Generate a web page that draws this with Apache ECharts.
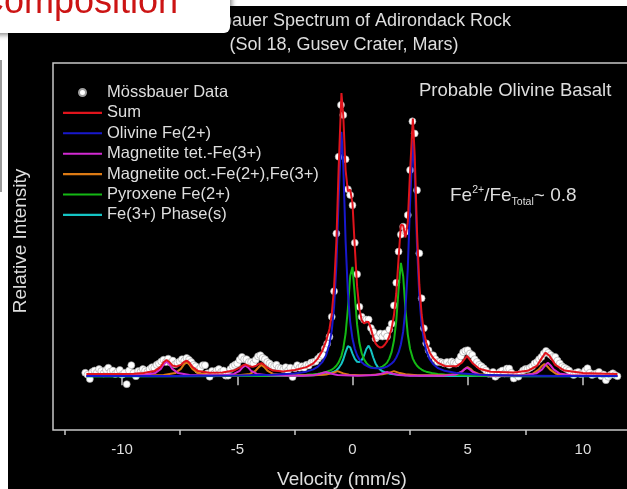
<!DOCTYPE html>
<html><head><meta charset="utf-8">
<script src="https://cdn.jsdelivr.net/npm/echarts@6/dist/echarts.min.js"></script>
<style>html,body{margin:0;padding:0;background:#fff;overflow:hidden;width:627px;height:489px}#c{width:660px;height:489px}</style>
</head><body><div id="c"></div>
<script>
const FONT = 'Liberation Sans, Arial, sans-serif';

// Tick labels / ticks
const majorTicks = [-10, -5, 0, 5, 10];
const minorTicks = [-12.5, -7.5, -2.5, 2.5, 7.5, 12.5];

// Mössbauer data (velocity mm/s, relative absorption)
const dataV = [
 -11.6,-11.5,-11.4,-11.3,-11.2,-11.1,-11.0,-10.9,-10.8,-10.7,
 -10.6,-10.5,-10.4,-10.3,-10.2,-10.1,-10.0,-9.9,-9.8,-9.7,
 -9.6,-9.5,-9.4,-9.3,-9.2,-9.1,-9.0,-8.9,-8.8,-8.7,
 -8.6,-8.5,-8.4,-8.3,-8.2,-8.1,-8.0,-7.9,-7.8,-7.7,
 -7.6,-7.5,-7.4,-7.3,-7.2,-7.1,-7.0,-6.9,-6.8,-6.7,
 -6.6,-6.5,-6.4,-6.3,-6.2,-6.1,-6.0,-5.9,-5.8,-5.7,
 -5.6,-5.5,-5.4,-5.3,-5.2,-5.1,-5.0,-4.9,-4.8,-4.7,
 -4.6,-4.5,-4.4,-4.3,-4.2,-4.1,-4.0,-3.9,-3.8,-3.7,
 -3.6,-3.5,-3.4,-3.3,-3.2,-3.1,-3.0,-2.9,-2.8,-2.7,
 -2.6,-2.5,-2.4,-2.3,
 -2.2,-2.1,-2.0,-1.9,-1.8,-1.7,-1.6,-1.5,-1.4,-1.3,
 -1.2,-1.1,-1.0,-0.9,-0.8,-0.7,-0.6,-0.5,-0.4,-0.3,
 -0.2,-0.1,0.0,0.1,0.2,0.3,0.4,0.5,0.6,0.7,
 0.8,0.9,1.0,1.1,1.2,1.3,1.4,1.5,1.6,1.7,
 1.8,1.9,2.0,2.1,2.2,2.3,2.4,2.5,2.6,2.7,
 2.8,2.9,3.0,3.1,3.2,3.3,3.4,3.5,3.6,3.7,3.8,
 3.9,4.0,4.1,4.2,4.3,4.4,4.5,4.6,4.7,4.8,
 4.9,5.0,5.1,5.2,5.3,5.4,5.5,5.6,5.7,5.8,
 5.9,6.0,6.1,6.2,6.3,6.4,6.5,6.6,6.7,6.8,
 6.9,7.0,7.1,7.2,7.3,7.4,7.5,7.6,7.7,7.8,
 7.9,8.0,8.1,8.2,8.3,8.4,8.5,8.6,8.7,8.8,
 8.9,9.0,9.1,9.2,9.3,9.4,9.5,9.6,9.7,9.8,
 9.9,10.0,10.1,10.2,10.3,10.4,10.5,10.6,10.7,10.8,
 10.9,11.0,11.1,11.2,11.3,11.4,11.5];
const dataI = [
 .012,.005,-.01,.015,.02,.012,.025,.018,.01,.022,
 .03,.016,.02,.008,.015,.022,.005,.012,-.028,.02,
 .039,.012,.0,.018,.015,.025,.02,.015,.025,.032,
 .03,.04,.045,.052,.058,.05,.062,.048,.055,.042,
 .048,.052,.06,.055,.064,.058,.05,.04,.035,.022,
 .03,.039,.039,.01,-.002,.018,.01,.02,.025,.015,
 .02,.002,.002,.025,.035,.04,.045,.058,.068,.06,
 .06,.05,.05,.045,.058,.07,.074,.065,.06,.05,
 .045,.038,.035,.04,.03,.028,.025,.032,.02,.03,
 -.003,.028,.039,.03,
 .035,.03,.04,.038,.048,.05,.052,.062,.07,.075,
 .098,.115,.139,.21,.30,.504,.775,.958,.922,.766,
 .66,.64,.604,.471,.36,.245,.21,.2,.2,.2,
 .17,.157,.133,.14,.151,.14,.151,.14,.165,.185,
 .25,.33,.44,.5,.528,.51,.569,.728,.9,.857,
 .657,.434,.275,.169,.116,.092,.075,.074,.06,.05,.051,
 .048,.045,.05,.04,.052,.048,.045,.055,.07,.085,
 .09,.092,.08,.075,.06,.05,.04,.035,.028,.02,
 .009,.009,.015,-.002,.005,.015,.02,.01,.027,.027,
 .012,-.008,.005,-.002,.01,.02,.025,.025,.03,.035,
 .045,.05,.06,.068,.08,.089,.082,.075,.068,.068,
 .055,.045,.035,.03,.025,.02,.01,.004,.012,.015,
 .008,.01,.02,.028,.012,.004,.008,.01,.015,.0,
 .006,-.014,-.002,.005,.01,.004,.0];

// Fit components (shared velocity grid)
const fitV = [-11.55,-8,-5,-3.5,-2.5,-2,-1.7,-1.5,-1.3,-1.15,-1.0,-0.9,-0.8,-0.7,-0.6,-0.48,-0.4,-0.3,-0.2,-0.1,0,0.1,0.2,0.3,0.4,0.5,0.6,0.7,0.8,0.9,1.0,1.1,1.2,1.3,1.4,1.5,1.6,1.7,1.8,1.9,2.0,2.1,2.2,2.3,2.4,2.5,2.62,2.7,2.8,2.9,3.0,3.1,3.2,3.35,3.5,3.7,4.0,4.5,5.5,7,9,11.5];
const olivineI = [.0004,.0009,.0023,.0047,.0096,.016,.024,.034,.051,.073,.113,.161,.244,.391,.635,.863,.744,.478,.294,.191,.132,.097,.074,.059,.049,.042,.037,.033,.030,.029,.028,.028,.028,.029,.031,.034,.039,.045,.053,.066,.084,.112,.158,.238,.380,.614,.834,.719,.462,.283,.183,.125,.091,.060,.043,.029,.019,.011,.005,.0022,.0011,.0006];
const pyroxeneI = [.0002,.0004,.001,.002,.0036,.0054,.0073,.009,.012,.015,.019,.023,.029,.037,.049,.072,.098,.150,.239,.354,.386,.286,.182,.118,.081,.060,.047,.038,.033,.030,.029,.029,.031,.034,.040,.048,.063,.086,.126,.195,.306,.400,.353,.234,.147,.096,.062,.049,.037,.029,.0235,.019,.016,.013,.010,.008,.006,.004,.002,.001,.0006,.0003];
const fe3I = [.0001,.0002,.0005,.0009,.0017,.0027,.0037,.0047,.0062,.008,.010,.013,.016,.021,.029,.044,.059,.085,.106,.102,.080,.061,.051,.050,.057,.073,.096,.108,.092,.066,.045,.032,.023,.018,.014,.011,.009,.008,.0065,.0056,.005,.0043,.0038,.0033,.003,.0028,.0025,.0023,.0021,.002,.0018,.0017,.0016,.0014,.0012,.001,.0009,.0007,.0004,.0002,.0001,.0001];

// Magnetite tetrahedral sextet
const tetV = [-11.55,-9.07,-8.57,-8.32,-8.19,-8.07,-7.95,-7.82,-7.57,-7.07,-5.65,-5.15,-4.9,-4.77,-4.65,-4.53,-4.4,-4.15,-3.65,-2.15,-1.65,-1.4,-1.15,-0.9,-0.65,0.2,1.0,1.25,1.5,1.75,2.0,2.5,3.97,4.47,4.72,4.85,4.97,5.09,5.22,5.47,5.97,7.48,7.98,8.23,8.36,8.48,8.6,8.73,8.98,9.48,11.5];
const tetI = [.001,.004,.011,.026,.042,.052,.042,.026,.011,.004,.003,.008,.019,.031,.038,.031,.019,.008,.003,.002,.004,.0085,.015,.0085,.004,.002,.004,.0085,.015,.0085,.004,.002,.002,.006,.015,.024,.03,.024,.015,.006,.002,.003,.01,.024,.038,.048,.038,.024,.01,.003,.001];

// Magnetite octahedral sextet
const octV = [-11.55,-8.2,-7.7,-7.45,-7.32,-7.2,-7.08,-6.95,-6.7,-6.2,-4.95,-4.45,-4.2,-4.07,-3.95,-3.83,-3.7,-3.45,-2.95,-1.65,-1.15,-0.9,-0.65,-0.4,-0.15,0.3,0.8,1.3,1.55,1.8,2.05,2.3,2.8,4.0,4.5,4.75,4.88,5.0,5.12,5.25,5.5,6.0,7.33,7.83,8.08,8.2,8.33,8.45,8.58,8.83,9.33,11.5];
const octI = [.001,.004,.011,.026,.041,.05,.041,.026,.011,.004,.003,.008,.02,.032,.04,.032,.02,.008,.003,.003,.006,.01,.018,.01,.005,.003,.004,.007,.011,.018,.011,.007,.003,.003,.007,.016,.026,.032,.026,.016,.007,.003,.003,.009,.023,.035,.043,.035,.023,.009,.003,.001];

// Sum of fit
const sumV = [-11.55,-11,-10,-9.5,-9.07,-8.6,-8.32,-8.19,-8.07,-7.95,-7.82,-7.65,-7.45,-7.32,-7.2,-7.08,-6.95,-6.7,-6.2,-5.65,-5.15,-4.9,-4.77,-4.65,-4.5,-4.35,-4.2,-4.07,-3.95,-3.83,-3.7,-3.45,-3.0,-2.5,
 -2,-1.7,-1.5,-1.3,-1.15,-1.0,-0.9,-0.8,-0.7,-0.6,-0.48,-0.4,-0.3,-0.2,-0.1,0,0.1,0.2,0.3,0.4,0.5,0.6,0.7,0.8,0.9,1.0,1.1,1.2,1.3,1.4,1.5,1.6,1.7,1.8,1.9,2.0,2.1,2.2,2.3,2.4,2.5,2.62,2.7,2.8,2.9,3.0,3.1,3.2,3.35,3.5,3.7,
 4.0,4.5,4.75,4.97,5.2,5.5,6.0,7.0,7.6,8.0,8.2,8.38,8.55,8.8,9.2,10,11,11.5];
const sumI = [.008,.008,.008,.009,.011,.018,.034,.05,.057,.05,.038,.034,.04,.05,.055,.048,.033,.018,.012,.013,.02,.03,.038,.042,.036,.033,.036,.043,.046,.04,.03,.02,.017,.022,
 .032,.045,.063,.091,.123,.167,.220,.314,.475,.738,1.0,.919,.728,.653,.659,.610,.455,.317,.237,.198,.186,.192,.191,.168,.138,.116,.106,.101,.103,.111,.123,.141,.169,.216,.293,.416,.535,.532,.490,.544,.725,.910,.781,.511,.324,.218,.156,.119,.084,.064,.048,
 .036,.035,.048,.072,.047,.026,.016,.013,.019,.036,.062,.083,.072,.04,.02,.011,.009,.008];

const seriesNames = ['Mössbauer Data','Sum','Olivine Fe(2+)','Magnetite tet.-Fe(3+)','Magnetite oct.-Fe(2+),Fe(3+)','Pyroxene Fe(2+)','Fe(3+) Phase(s)'];
const colors = {sum:'#e0141c', ol:'#1818cc', tet:'#d22ad2', oct:'#dc7a14', px:'#14b814', fe3:'#14c4c4'};

const pairs = (v, y) => v.map((x, k) => [x, y[k]]);
const LINE_ICON = 'path://M0,0H40V2.2H0Z';
const TXT = '#dedede';

function lineSeries(name, v, y, color, z) {
  return {type:'line', name, data: pairs(v, y), symbol:'none', showSymbol:false, z,
    lineStyle:{color, width:2}, itemStyle:{color}, emphasis:{disabled:true}, silent:true};
}

const chart = echarts.init(document.getElementById('c'), null, {renderer:'canvas', width:660, height:489});
chart.setOption({
  animation:false,
  backgroundColor:'#000',
  textStyle:{fontFamily:FONT},
  grid:{left:53, top:63, width:599, height:367, show:true, borderColor:'#c8c8c8', borderWidth:1.5, backgroundColor:'transparent'},
  xAxis:[
    {type:'value', min:-13, max:13, axisLine:{show:false}, splitLine:{show:false},
     axisTick:{show:true, customValues:majorTicks, length:9, lineStyle:{color:'#c8c8c8', width:1.5}},
     axisLabel:{show:true, customValues:majorTicks, color:TXT, fontSize:15, margin:12, fontFamily:FONT}},
    {type:'value', min:-13, max:13, position:'bottom', axisLine:{show:false}, splitLine:{show:false},
     axisTick:{show:true, customValues:minorTicks, length:5, lineStyle:{color:'#c8c8c8', width:1.5}},
     axisLabel:{show:false}}
  ],
  yAxis:{type:'value', min:-0.19, max:1.106, show:false},
  legend:{orient:'vertical', left:63, top:84, padding:0, itemWidth:39, itemHeight:7, itemGap:3.4,
    textStyle:{color:TXT, fontSize:16.5, fontFamily:FONT}, selectedMode:false,
    data:[
      {name:seriesNames[0], icon:'circle'},
      {name:seriesNames[1], icon:LINE_ICON},
      {name:seriesNames[2], icon:LINE_ICON},
      {name:seriesNames[3], icon:LINE_ICON},
      {name:seriesNames[4], icon:LINE_ICON},
      {name:seriesNames[5], icon:LINE_ICON},
      {name:seriesNames[6], icon:LINE_ICON}
    ]},
  series:[
    {type:'scatter', name:seriesNames[0], data:pairs(dataV, dataI), symbol:'circle', symbolSize:7, z:2, silent:true,
     itemStyle:{color:'#ffffff', borderColor:'#a0a0a0', borderWidth:0.6, opacity:1}},
    lineSeries(seriesNames[6], fitV, fe3I, colors.fe3, 3),
    lineSeries(seriesNames[5], fitV, pyroxeneI, colors.px, 4),
    lineSeries(seriesNames[4], octV, octI, colors.oct, 5),
    lineSeries(seriesNames[3], tetV, tetI, colors.tet, 6),
    lineSeries(seriesNames[2], fitV, olivineI, colors.ol, 7),
    lineSeries(seriesNames[1], sumV, sumI, colors.sum, 8)
  ],
  graphic:[
    {type:'rect', shape:{x:0, y:0, width:8, height:489}, style:{fill:'#fff'}, z:50, silent:true},
    {type:'rect', shape:{x:0, y:0, width:660, height:6}, style:{fill:'#fff'}, z:50, silent:true},
    {type:'line', shape:{x1:1, y1:60, x2:1, y2:192}, style:{stroke:'#9a9a9a', lineWidth:2}, z:51, silent:true},
    {type:'text', x:345, y:21, style:{text:'Mössbauer Spectrum of Adirondack Rock', fill:TXT, fontSize:18, fontFamily:FONT, align:'center', verticalAlign:'middle'}, z:20, silent:true},
    {type:'text', x:344, y:45, style:{text:'(Sol 18, Gusev Crater, Mars)', fill:TXT, fontSize:18, fontFamily:FONT, align:'center', verticalAlign:'middle'}, z:20, silent:true},
    {type:'rect', shape:{x:-20, y:-20, width:250, height:53, r:6}, style:{fill:'#fff', shadowBlur:5, shadowColor:'rgba(0,0,0,0.45)', shadowOffsetX:2, shadowOffsetY:2}, z:100, silent:true},
    {type:'text', x:178, y:3, style:{text:'Composition', fill:'#cc1414', fontSize:36, fontFamily:FONT, align:'right', verticalAlign:'middle'}, z:101, silent:true},
    {type:'text', x:419, y:91, style:{text:'Probable Olivine Basalt', fill:TXT, fontSize:18.5, fontFamily:FONT, align:'left', verticalAlign:'middle'}, z:20, silent:true},
    {type:'text', x:450, y:196, style:{text:'{a|Fe}{sp|2+}{a|/Fe}{sb|Total}{a|~ 0.8}', fill:TXT, fontFamily:FONT, align:'left', verticalAlign:'middle',
      rich:{a:{fontSize:19, fill:TXT, lineHeight:30, verticalAlign:'middle', fontFamily:FONT}, sp:{fontSize:10.5, fill:TXT, lineHeight:30, verticalAlign:'top', padding:[4,0,0,0], fontFamily:FONT}, sb:{fontSize:10.5, fill:TXT, lineHeight:30, verticalAlign:'bottom', padding:[0,0,3,0], fontFamily:FONT}}}, z:20, silent:true},
    {type:'text', x:21, y:241, rotation:Math.PI/2, style:{text:'Relative Intensity', fill:TXT, fontSize:19, fontFamily:FONT, align:'center', verticalAlign:'middle'}, z:20, silent:true},
    {type:'text', x:342, y:480, style:{text:'Velocity (mm/s)', fill:TXT, fontSize:19, fontFamily:FONT, align:'center', verticalAlign:'middle'}, z:20, silent:true}
  ]
});
</script></body></html>
